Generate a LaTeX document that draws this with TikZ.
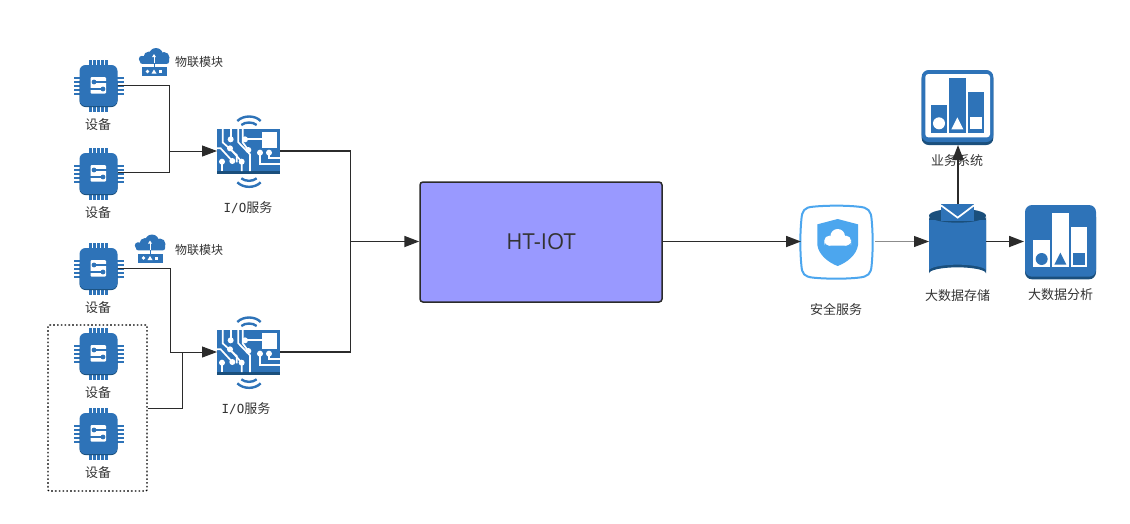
\documentclass[tikz,border=0pt]{standalone}
\usepackage{fontspec}
\setmainfont{Noto Sans CJK SC}
\newfontfamily\latinf{Open Sans}
\newfontfamily\iofont{DejaVu Sans Mono}
\usetikzlibrary{arrows.meta,calc}
\definecolor{ablue}{HTML}{2E73B8}
\definecolor{adark}{HTML}{1A4F7C}
\definecolor{lblue}{HTML}{4CA6EE}
\definecolor{linec}{HTML}{2B2B2B}
\definecolor{txtc}{HTML}{333333}
\definecolor{mainfill}{HTML}{9999FF}
\tikzset{
  anchorbox/.style={inner sep=0pt,outer sep=0pt,minimum width=#1},
  lab/.style={inner sep=0pt,font=\fontsize{13}{13}\selectfont,text=txtc},
  labs/.style={inner sep=0pt,font=\fontsize{12}{12}\selectfont,text=txtc},
  thinln/.style={draw=linec,line width=.9pt},
  thickln/.style={draw=linec,line width=1.8pt},
  grayln/.style={draw=gray!90,line width=1.3pt},
  tip/.style={-{Triangle[length=15pt,width=11pt]}},
  pics/chip/.style={code={
    \foreach \d in {-8,-4,0,4,8}{
      \fill[ablue] (\d-1.2,-26) rectangle (\d+1.2,26);
      \fill[ablue] (-25,\d-1.2) rectangle (25,\d+1.2);
    }
    \fill[adark,rounded corners=6pt] (-19,-10) rectangle (19,21);
    \fill[ablue,rounded corners=6pt] (-19,-21) rectangle (19,20);
    \fill[white,rounded corners=1pt] (-8,-9) rectangle (7.5,7.5);
    \draw[ablue,line width=1.4pt] (-4,-4) -- (8,-4);
    \draw[ablue,line width=1.4pt] (-8.5,3) -- (4,3);
    \fill[ablue] (-4.5,-4) circle (2.4);
    \fill[ablue] (4.5,3) circle (2.4);
  }},
  pics/router/.style={code={
    \fill[ablue] (-5,-5) circle (5.5);
    \fill[ablue] (2,-7) circle (7);
    \fill[ablue] (10,-4.5) circle (5.5);
    \fill[ablue] (-12,-3) circle (3.2);
    \fill[ablue,rounded corners=2pt] (-14,-6) rectangle (15,1.8);
    \draw[ablue,line width=1pt] (0,1) -- (0,5);
    \draw[white,line width=.9pt] (0,1) -- (0,-6);
    \fill[white] (-2,-5) -- (0,-8) -- (2,-5) -- cycle;
    \fill[ablue] (-12,5) rectangle (13,14);
    \fill[white] (-6.5,9.5) circle (1.8);
    \fill[white] (-2.5,11.5) -- (0,7.5) -- (2.5,11.5) -- cycle;
    \fill[white] (5,8) rectangle (8.4,11.4);
  }},
  pics/board/.style={code={
    \begin{scope}[shift={(-48.5,-46)},scale=1/3]
      \fill[ablue] (50,72) rectangle (240,198);
      \fill[adark] (50,198) rectangle (240,206);
      \fill[white] (185,82) rectangle (232,128);
      \begin{scope}[draw=white,line width=1.7pt]
        \draw (68,72) -- (68,112) -- (110,150) -- (110,172);
        \draw (92,72) -- (92,103);
        \draw (115,72) -- (115,112) -- (150,148) -- (150,198);
        \draw (128,72) -- (128,112) -- (145,135);
        \draw (135,103) -- (185,103);
        \draw (50,130) -- (62,130) -- (97,168);
        \draw (66,198) -- (66,170);
        \draw (90,130) -- (125,170) -- (125,198);
        \draw (180,143) -- (180,178) -- (240,178);
        \draw (207,143) -- (207,160) -- (240,160);
      \end{scope}
      \foreach \p in {(92,103),(135,103),(90,130),(145,135),(97,168),(66,170),(125,170),(180,143),(207,143)}{\fill[white] \p circle (9);}
      \draw[ablue,line width=2.4pt] (112,48) .. controls (130,30) and (165,30) .. (182,48);
      \draw[ablue,line width=2.4pt] (124,60) .. controls (136,50) and (158,50) .. (170,60);
      \draw[ablue,line width=2.4pt] (112,232) .. controls (130,250) and (165,250) .. (182,232);
      \draw[ablue,line width=2.4pt] (124,220) .. controls (136,230) and (158,230) .. (170,220);
    \end{scope}
  }},
  pics/shield/.style={code={
    \begin{scope}[shift={(-48,-51)},scale=1/3]
      \draw[lblue,line width=2pt,fill=white] (70,50) .. controls (110,46) and (170,46) .. (205,50)
        .. controls (235,52) and (243,62) .. (245,90)
        .. controls (249,130) and (249,185) .. (245,225)
        .. controls (243,252) and (235,260) .. (205,263)
        .. controls (170,267) and (110,267) .. (70,263)
        .. controls (42,260) and (36,252) .. (34,225)
        .. controls (30,185) and (30,130) .. (34,90)
        .. controls (36,62) and (42,52) .. (70,50) -- cycle;
      \fill[lblue] (143,87) -- (204,103) -- (204,165) .. controls (200,195) and (170,218) .. (143,228)
        .. controls (116,218) and (86,195) .. (82,165) -- (82,103) -- cycle;
      \fill[white] (118,152) circle (15);
      \fill[white] (143,139) circle (22);
      \fill[white] (168,152) circle (15);
      \fill[white,rounded corners=6pt] (103,148) rectangle (183,167);
    \end{scope}
  }},
  pics/storage/.style={code={
    \begin{scope}[shift={(-48,-182)},scale=1/3]
      \fill[adark] (57,470) -- (57,640) arc[start angle=180,end angle=360,x radius=85.5,y radius=18] -- (228,470) -- cycle;
      \fill[ablue] (57,480) -- (57,632) arc[start angle=180,end angle=360,x radius=85.5,y radius=18] -- (228,480) -- cycle;
      \fill[white] (57,476) arc[start angle=180,end angle=360,x radius=85.5,y radius=24] -- (228,465) -- (57,465) -- cycle;
      \fill[adark] (142.5,467) ellipse[x radius=85.5,y radius=21];
      \fill[ablue] (93,432) rectangle (192,482);
      \draw[white,line width=1.7pt] (93,436) -- (143,473) -- (192,436);
    \end{scope}
  }},
  pics/bizchart/.style={code={
    \begin{scope}[shift={(-48,-48)},scale=1/3]
      \fill[adark,rounded corners=7pt] (35,35) rectangle (250,255);
      \fill[ablue,rounded corners=7pt] (35,30) rectangle (250,246);
      \fill[white,rounded corners=3pt] (46,42) rectangle (240,232);
      \fill[ablue] (62,135) rectangle (112,218);
      \fill[ablue] (118,55) rectangle (167,218);
      \fill[ablue] (173,96) rectangle (223,218);
      \fill[white] (87,190) circle (18);
      \fill[white] (142,172) -- (160,208) -- (124,208) -- cycle;
      \fill[white] (180,172) rectangle (217,208);
    \end{scope}
  }},
  pics/anachart/.style={code={
    \begin{scope}[shift={(-150,-182)},scale=1/3]
      \fill[adark,rounded corners=7pt] (345,450) rectangle (558,658);
      \fill[ablue,rounded corners=7pt] (345,435) rectangle (558,650);
      \fill[white] (370,541) rectangle (420,622);
      \fill[white] (426,460) rectangle (476,622);
      \fill[white] (482,501) rectangle (532,622);
      \fill[ablue] (395,597) circle (18);
      \fill[ablue] (451,578) -- (469,614) -- (433,614) -- cycle;
      \fill[ablue] (489,578) rectangle (525,614);
    \end{scope}
  }}
}
\begin{document}
\begin{tikzpicture}[x=1pt,y=-1pt]
\useasboundingbox (0,0) rectangle (1130,523);
% devices
\foreach \n/\x/\y/\ly in {c1/98.5/86/85,c2/98.5/174/172,c3/98.5/269/268,c4/98.5/354/353,c5/98.5/434/433}{
  \pic at (\x,\y) {chip};
  \node[anchorbox=39pt,minimum height=41pt] (\n) at (\x,\ly) {};
}
\node[lab] (lc1) at (98,124.5) {设备};
\node[lab] (lc2) at (98,212.5) {设备};
\node[lab] (lc3) at (98,307.5) {设备};
\node[lab] (lc4) at (98,392.5) {设备};
\node[lab] (lc5) at (98,472.5) {设备};
% routers
\pic at (154,62) {router};
\pic at (150,248.5) {router};
\node[labs] (lr1) at (199,62) {物联模块};
\node[labs] (lr2) at (199,250) {物联模块};
% boards
\pic at (248.5,151) {board};
\pic at (248.5,352) {board};
\node[anchorbox=63pt,minimum height=44pt] (b1) at (248.5,151) {};
\node[anchorbox=63pt,minimum height=44pt] (b2) at (248.5,352) {};
\node[lab] (lb1) at (248,207.5) {{\iofont\fontsize{12.5}{13}\selectfont I/O}服务};
\node[lab] (lb2) at (246,408.5) {{\iofont\fontsize{12.5}{13}\selectfont I/O}服务};
% main
\node[draw=linec,line width=1.5pt,fill=mainfill,rounded corners=3pt,minimum width=242pt,minimum height=120pt,inner sep=0pt,font=\latinf\fontsize{22}{22}\selectfont,text=txtc] (ht) at (541,242) {HT-IOT};
% group
\node[draw=black,line width=1.3pt,dash pattern=on 1.6pt off 2.2pt,rounded corners=1pt,minimum width=99pt,minimum height=166pt,inner sep=0pt] (grp) at (97.5,408) {};
% right icons
\pic at (838,241) {shield};
\node[anchorbox=74pt,minimum height=74pt] (sec) at (838,242) {};
\node[lab] (lsec) at (836,309.5) {安全服务};
\pic at (958,242) {storage};
\node[anchorbox=57pt,minimum height=72pt] (sto) at (957.5,242) {};
\node[lab] (lsto) at (957.5,295.5) {大数据存储};
\pic at (958,108) {bizchart};
\node[anchorbox=71pt,minimum height=75pt] (biz) at (958,107.5) {};
\node[anchorbox=33pt,minimum height=18pt] (env) at (958,213) {};
\node[lab] (lbiz) at (957,160.5) {业务系统};
\pic at (1060,242) {anachart};
\node[anchorbox=72pt,minimum height=75pt] (ana) at (1060,242.5) {};
\node[lab] (lana) at (1060.5,294.5) {大数据分析};
% connectors
\coordinate (j1) at (169,151);
\draw[thinln] (c1.east) -- (c1.east -| j1) -- (j1);
\draw[thinln] (c2.east) -- (c2.east -| j1) -- (j1);
\draw[thinln,tip] (j1) -- (b1.west);
\coordinate (j2) at (170,352);
\draw[thinln] (c3.east) -- (c3.east -| j2) -- (j2);
\draw[thinln,tip] (j2) -- (b2.west);
\coordinate (j3) at (182,352);
\draw[thinln] (grp.east) -- (grp.east -| j3) -- (j3);
\coordinate (j4) at (350.5,241.5);
\draw[thickln] (b1.east) -- (b1.east -| j4) -- (j4);
\draw[thickln] (b2.east) -- (b2.east -| j4) -- (j4);
\draw[thickln,tip] (j4) -- (ht.west |- j4);
\draw[thickln,tip] (ht.east |- j4) -- (sec.west |- j4);
\draw[grayln] (sec.east |- j4) -- ($(sto.west |- j4)+(-12,0)$);
\draw[thinln,tip] ($(sto.west |- j4)+(-15,0)$) -- (sto.west |- j4);
\draw[thickln,tip] (sto.east |- j4) -- (ana.west |- j4);
\draw[thickln,tip] (env.north) -- (biz.south);
\end{tikzpicture}
\end{document}
